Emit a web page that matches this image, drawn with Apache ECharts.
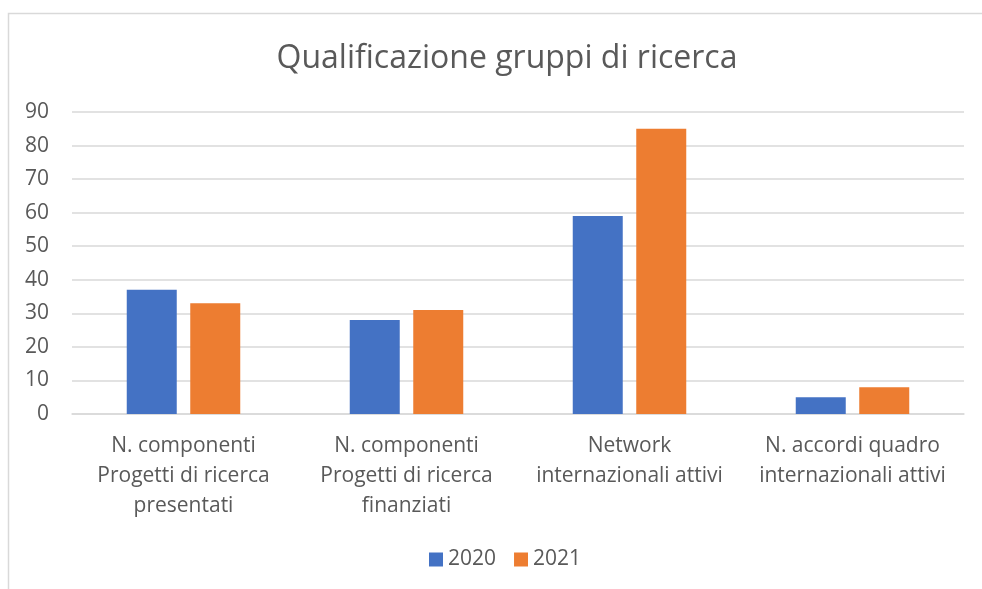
<!DOCTYPE html>
<html><head><meta charset="utf-8">
<script src="https://cdn.jsdelivr.net/npm/echarts@6/dist/echarts.min.js"></script>
<style>html,body{margin:0;padding:0;background:#fff}#c{width:982px;height:589px}</style>
</head><body><div id="c"></div>
<script>
const title = "Qualificazione gruppi di ricerca";
const categories = ["N. componenti\nProgetti di ricerca\npresentati", "N. componenti\nProgetti di ricerca\nfinanziati", "Network\ninternazionali attivi", "N. accordi quadro\ninternazionali attivi"];
const seriesNames = ["2020", "2021"];
const values2020 = [37, 28, 59, 5];
const values2021 = [33, 31, 85, 8];
const yTicks = [0, 10, 20, 30, 40, 50, 60, 70, 80, 90];

const font = "'Open Sans', 'Noto Sans', sans-serif";
const chart = echarts.init(document.getElementById('c'), null, {renderer: 'canvas'});
chart.setOption({
  animation: false,
  graphic: [{
    type: 'rect', shape: {x: 8.5, y: 13.5, width: 1000, height: 600},
    style: {fill: 'none', stroke: '#d9d9d9', lineWidth: 1.5}, silent: true
  }],
  title: {
    text: title, left: 502, top: 38, textAlign: 'center',
    textStyle: {fontFamily: font, fontSize: 32, fontWeight: 'normal', color: '#595959'}
  },
  legend: {
    data: seriesNames, left: 424, top: 544, itemWidth: 14, itemHeight: 14, itemGap: 18,
    icon: 'rect',
    textStyle: {fontFamily: font, fontSize: 21, color: '#595959'}
  },
  grid: {left: 72, right: 18, top: 112, bottom: 175, containLabel: false},
  xAxis: {
    type: 'category', data: categories,
    axisLine: {lineStyle: {color: '#d9d9d9', width: 1.5}},
    axisTick: {show: false},
    axisLabel: {fontFamily: font, fontSize: 21, color: '#595959', lineHeight: 30, margin: 17, interval: 0}
  },
  yAxis: {
    type: 'value', min: yTicks[0], max: yTicks[yTicks.length - 1], interval: 10,
    axisLine: {show: false}, axisTick: {show: false},
    splitLine: {lineStyle: {color: '#d9d9d9', width: 1.5}},
    axisLabel: {fontFamily: font, fontSize: 21, color: '#595959', margin: 23}
  },
  series: [
    {name: seriesNames[0], type: 'bar', data: values2020, barWidth: 50, barGap: '27%',
     itemStyle: {color: '#4472c4'}},
    {name: seriesNames[1], type: 'bar', data: values2021, barWidth: 50,
     itemStyle: {color: '#ed7d31'}}
  ]
});
</script></body></html>
